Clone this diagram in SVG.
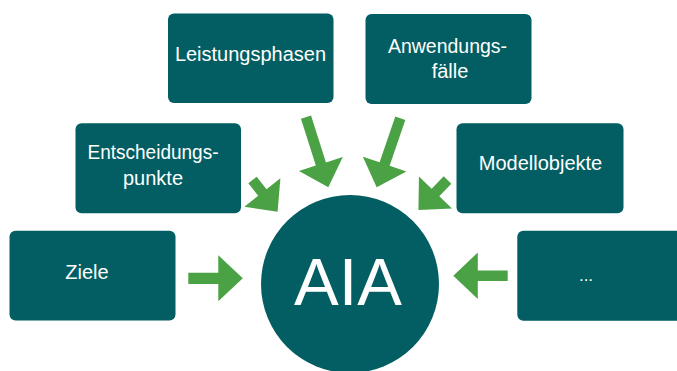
<svg xmlns="http://www.w3.org/2000/svg" width="677" height="371" viewBox="0 0 677 371">
<style>
.box{fill:#025e62}
.t{font-family:"Liberation Sans",Arial,sans-serif;font-size:20px;fill:#ffffff;text-anchor:middle}
.arr{fill:#4aa244}
</style>
<rect width="677" height="371" fill="#ffffff"/>
<g id="connectors">
<path class="arr" transform="translate(188.3,278.3)" d="M0,-5.6 H30 V-23 L54.5,0 L30,23 V5.6 H0 Z"/>
<path class="arr" transform="translate(507.7,275.8) rotate(180)" d="M0,-5.3 H29.9 V-23.3 L54.4,0 L29.9,23.3 V5.3 H0 Z"/>
<path class="arr" transform="translate(306,117.2) rotate(72.35)" d="M0,-5.3 H49.1 V-23 L73.6,0 L49.1,23 V5.3 H0 Z"/>
<path class="arr" transform="translate(400.3,118.3) rotate(108.9)" d="M0,-5.3 H48.4 V-23 L72.9,0 L48.4,23 V5.3 H0 Z"/>
<path class="arr" transform="translate(252.5,180) rotate(51.6)" d="M0,-5.3 H15.9 V-23 L40.4,0 L15.9,23 V5.3 H0 Z"/>
<path class="arr" transform="translate(447.5,180) rotate(134)" d="M0,-5.3 H17.3 V-23 L41.8,0 L17.3,23 V5.3 H0 Z"/>
</g>
<g id="leistungsphasen">
<rect class="box" x="168" y="13.5" width="165.5" height="89.5" rx="6"/>
<text class="t" x="250.5" y="60.7">Leistungsphasen</text>
</g>
<g id="anwendungsfaelle">
<rect class="box" x="365.5" y="14" width="166" height="90" rx="6"/>
<text class="t" x="447.5" y="52.7" textLength="119" lengthAdjust="spacingAndGlyphs">Anwendungs-</text>
<text class="t" x="450" y="78.3">fälle</text>
</g>
<g id="entscheidungspunkte">
<rect class="box" x="75.5" y="123.3" width="165.5" height="90" rx="6"/>
<text class="t" x="153" y="159.3" textLength="131" lengthAdjust="spacingAndGlyphs">Entscheidungs-</text>
<text class="t" x="153" y="185">punkte</text>
</g>
<g id="modellobjekte">
<rect class="box" x="456.5" y="123.3" width="167" height="90" rx="6"/>
<text class="t" x="540.5" y="170">Modellobjekte</text>
</g>
<g id="ziele">
<rect class="box" x="9.5" y="230.7" width="166" height="89.8" rx="6"/>
<text class="t" x="87" y="279">Ziele</text>
</g>
<g id="weitere">
<rect class="box" x="517.3" y="230.7" width="170" height="90" rx="6"/>
<text class="t" x="586" y="280.7" style="font-size:17px">...</text>
</g>
<g id="aia">
<circle class="box" cx="350" cy="284" r="89"/>
<text class="t" x="348" y="305" style="font-size:67px">AIA</text>
</g>
</svg>
